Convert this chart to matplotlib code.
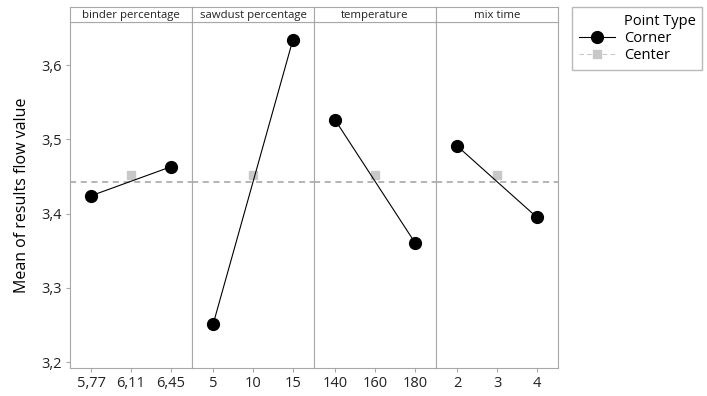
import matplotlib
matplotlib.use("Agg")
import matplotlib.pyplot as plt
from matplotlib.lines import Line2D
from matplotlib.ticker import FuncFormatter

plt.rcParams['font.family'] = ['Open Sans', 'DejaVu Sans']

factors = ['binder percentage', 'sawdust percentage', 'temperature', 'mix time']
levels = [[5.77, 6.11, 6.45], [5, 10, 15], [140, 160, 180], [2, 3, 4]]
level_labels = [['5,77', '6,11', '6,45'], ['5', '10', '15'],
                ['140', '160', '180'], ['2', '3', '4']]
corner_means = [[3.424, 3.463], [3.251, 3.634], [3.526, 3.361], [3.491, 3.395]]
center_mean = 3.452
grand_mean = 3.442
y_ticks = [3.2, 3.3, 3.4, 3.5, 3.6]

fig = plt.figure(figsize=(7.07, 3.96), dpi=100)
W, H = 707, 396
left, right = 70, 558
plot_top, plot_bot, strip_top = 22, 368, 7
pw = (right - left) / 4
spine_col = '#a8a8a8'

for i, name in enumerate(factors):
    x0 = left + i * pw
    ax = fig.add_axes([x0 / W, 1 - plot_bot / H, pw / W, (plot_bot - plot_top) / H])
    lv = levels[i]
    step = lv[1] - lv[0]
    ax.set_xlim(lv[0] - 0.53 * step, lv[2] + 0.53 * step)
    ax.set_ylim(3.192, 3.658)
    ax.axhline(grand_mean, color='#a0a0a0', ls=(0, (4, 3)), lw=1.1, zorder=1)
    ax.plot([lv[0], lv[2]], corner_means[i], color='black', lw=0.8,
            marker='o', ms=8.5, zorder=3)
    ax.plot([lv[1]], [center_mean], ls='none', marker='s', ms=6,
            color='#c8c8c8', zorder=2)
    ax.set_xticks(lv)
    ax.set_xticklabels(level_labels[i], fontsize=10.5)
    for s in ax.spines.values():
        s.set_color(spine_col)
    ax.tick_params(colors=spine_col, labelcolor='#222222', length=3, pad=3)
    if i == 0:
        ax.set_yticks(y_ticks)
        ax.yaxis.set_major_formatter(FuncFormatter(lambda v, p: f'{v:.1f}'.replace('.', ',')))
        ax.tick_params(axis='y', labelsize=10.5)
        ax.set_ylabel('Mean of results flow value', fontsize=11.5, labelpad=8)
    else:
        ax.set_yticks([])

    sax = fig.add_axes([x0 / W, 1 - plot_top / H, pw / W, (plot_top - strip_top) / H])
    sax.set_xticks([])
    sax.set_yticks([])
    for s in sax.spines.values():
        s.set_color(spine_col)
    sax.text(0.5, 0.45, name, ha='center', va='center', fontsize=8.2, color='#222222',
             transform=sax.transAxes)

handles = [
    Line2D([], [], alpha=0),
    Line2D([], [], color='black', lw=0.8, marker='o', ms=8.5),
    Line2D([], [], color='#c8c8c8', lw=0.8, ls=(0, (4, 3)), marker='s', ms=6),
]
leg = fig.legend(handles, ['Point Type', 'Corner', 'Center'],
                 loc='upper left', bbox_to_anchor=(572 / W, 1 - 7 / H),
                 fontsize=10.5, frameon=True, fancybox=False, edgecolor=spine_col,
                 handlelength=2.5, labelspacing=0.15, borderpad=0.45,
                 handletextpad=0.6, borderaxespad=0)
leg.get_frame().set_linewidth(1.0)

fig.savefig('out.png', dpi=100)
